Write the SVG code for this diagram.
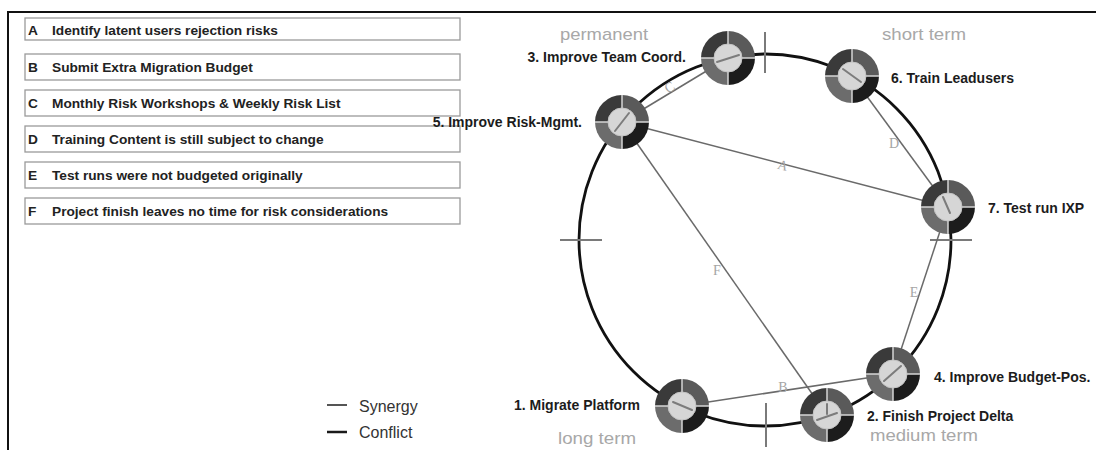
<svg xmlns="http://www.w3.org/2000/svg" width="1096" height="450" viewBox="0 0 1096 450">
<style>
.frame{stroke:#111;stroke-width:2;fill:none}
.box{fill:#fff;stroke:#9a9a9a;stroke-width:1.3}
.lt{font-family:"Liberation Sans",Arial,sans-serif;font-size:13.7px;font-weight:bold;fill:#222}
.nl{font-family:"Liberation Sans",Arial,sans-serif;font-size:14px;font-weight:bold;fill:#1c1c1c}
.term{font-family:"Liberation Sans",Arial,sans-serif;font-size:17px;fill:#a8a8a8}
.leg{font-family:"Liberation Sans",Arial,sans-serif;font-size:16px;fill:#333}
.edge{stroke:#6a6a6a;stroke-width:1.5;fill:none}
.el{font-family:"Liberation Serif","Times New Roman",serif;font-size:14px;fill:#a5a5a5}
.tick{stroke:#7a7a7a;stroke-width:2}
.needle{stroke:#7c7c7c;stroke-width:2;stroke-linecap:round}
</style>
<defs>
<g id="ring">
<path d="M0,0 L-27,0 A27,27 0 0 1 0,-27 Z" fill="#3a3a3a"/>
<path d="M0,0 L0,-27 A27,27 0 0 1 27,0 Z" fill="#5a5a5a"/>
<path d="M0,0 L27,0 A27,27 0 0 1 0,27 Z" fill="#1c1c1c"/>
<path d="M0,0 L0,27 A27,27 0 0 1 -27,0 Z" fill="#6c6c6c"/>
<line x1="-27" y1="0" x2="27" y2="0" stroke="#d6d6d6" stroke-width="1.5"/>
<line x1="0" y1="-27" x2="0" y2="27" stroke="#d6d6d6" stroke-width="1.5"/>
<circle r="14" fill="#d6d6d6" stroke="#c4c4c4" stroke-width="1"/>
</g>
</defs>

<g id="frame">
<line class="frame" x1="8" y1="12" x2="1096" y2="12"/>
<line class="frame" x1="8" y1="11" x2="8" y2="450"/>
</g>

<g id="risk-list">
<g id="risk-A"><rect class="box" x="25" y="18" width="435" height="22"/><text class="lt" x="28" y="35">A</text><text class="lt" x="52" y="35">Identify latent users rejection risks</text></g>
<g id="risk-B"><rect class="box" x="25" y="54" width="435" height="26"/><text class="lt" x="28" y="72">B</text><text class="lt" x="52" y="72">Submit Extra Migration Budget</text></g>
<g id="risk-C"><rect class="box" x="25" y="90" width="435" height="26"/><text class="lt" x="28" y="108">C</text><text class="lt" x="52" y="108">Monthly Risk Workshops &amp; Weekly Risk List</text></g>
<g id="risk-D"><rect class="box" x="25" y="126" width="435" height="26"/><text class="lt" x="28" y="144">D</text><text class="lt" x="52" y="144">Training Content is still subject to change</text></g>
<g id="risk-E"><rect class="box" x="25" y="162" width="435" height="26"/><text class="lt" x="28" y="180">E</text><text class="lt" x="52" y="180">Test runs were not budgeted originally</text></g>
<g id="risk-F"><rect class="box" x="25" y="198" width="435" height="26"/><text class="lt" x="28" y="216">F</text><text class="lt" x="52" y="216">Project finish leaves no time for risk considerations</text></g>
</g>

<g id="legend">
<line x1="327" y1="405" x2="347" y2="405" stroke="#555" stroke-width="2"/>
<text class="leg" x="359" y="412">Synergy</text>
<line x1="327" y1="432" x2="347" y2="432" stroke="#1a1a1a" stroke-width="2.5"/>
<text class="leg" x="359" y="438">Conflict</text>
</g>

<g id="timeline">
<circle cx="765" cy="240" r="186" fill="none" stroke="#111" stroke-width="2.8"/>
<line class="tick" x1="765" y1="32" x2="765" y2="73"/>
<line class="tick" x1="560" y1="240" x2="602" y2="240"/>
<line class="tick" x1="930" y1="240" x2="972" y2="240"/>
<line class="tick" x1="766" y1="403" x2="766" y2="447"/>
<text class="term" x="560" y="40" textLength="88" lengthAdjust="spacingAndGlyphs">permanent</text>
<text class="term" x="882" y="40" textLength="84" lengthAdjust="spacingAndGlyphs">short term</text>
<text class="term" x="558" y="444" textLength="78" lengthAdjust="spacingAndGlyphs">long term</text>
<text class="term" x="870" y="441" font-size="16" textLength="108" lengthAdjust="spacingAndGlyphs">medium term</text>
</g>

<g id="connectors">
<line class="edge" x1="622" y1="122" x2="728" y2="58"/>
<line class="edge" x1="622" y1="122" x2="948" y2="207"/>
<line class="edge" x1="622" y1="122" x2="827" y2="415"/>
<line class="edge" x1="852" y1="76" x2="948" y2="207"/>
<line class="edge" x1="948" y1="207" x2="893" y2="374"/>
<line class="edge" x1="682" y1="406" x2="893" y2="374"/>
<text class="el" x="670" y="92" text-anchor="middle" transform="rotate(-31 670 88)">C</text>
<text class="el" x="783" y="170" text-anchor="middle" transform="rotate(15 783 165)">A</text>
<text class="el" x="717" y="275" text-anchor="middle">F</text>
<text class="el" x="894" y="148" text-anchor="middle">D</text>
<text class="el" x="914" y="297" text-anchor="middle">E</text>
<text class="el" x="783" y="392" text-anchor="middle">B</text>
</g>

<g id="node-3">
<use href="#ring" x="728" y="58"/>
<line class="needle" x1="717" y1="62" x2="739" y2="55"/>
<text class="nl" x="686" y="62" text-anchor="end">3. Improve Team Coord.</text>
</g>
<g id="node-5">
<use href="#ring" x="622" y="122"/>
<line class="needle" x1="615" y1="131" x2="629" y2="113"/>
<text class="nl" x="582" y="127" text-anchor="end">5. Improve Risk-Mgmt.</text>
</g>
<g id="node-6">
<use href="#ring" x="852" y="76"/>
<line class="needle" x1="843" y1="69" x2="861" y2="82"/>
<text class="nl" x="891" y="83">6. Train Leadusers</text>
</g>
<g id="node-7">
<use href="#ring" x="948" y="207"/>
<line class="needle" x1="943" y1="197" x2="950" y2="213"/>
<text class="nl" x="988" y="213">7. Test run IXP</text>
</g>
<g id="node-4">
<use href="#ring" x="893" y="374"/>
<line class="needle" x1="884" y1="381" x2="901" y2="366"/>
<text class="nl" x="934" y="382">4. Improve Budget-Pos.</text>
</g>
<g id="node-2">
<use href="#ring" x="827" y="415"/>
<line class="needle" x1="827" y1="404" x2="827" y2="414"/>
<line class="needle" x1="817" y1="420" x2="837" y2="413"/>
<text class="nl" x="867" y="421">2. Finish Project Delta</text>
</g>
<g id="node-1">
<use href="#ring" x="682" y="406"/>
<line class="needle" x1="673" y1="402" x2="692" y2="410"/>
<text class="nl" x="640" y="410" text-anchor="end">1. Migrate Platform</text>
</g>
</svg>
